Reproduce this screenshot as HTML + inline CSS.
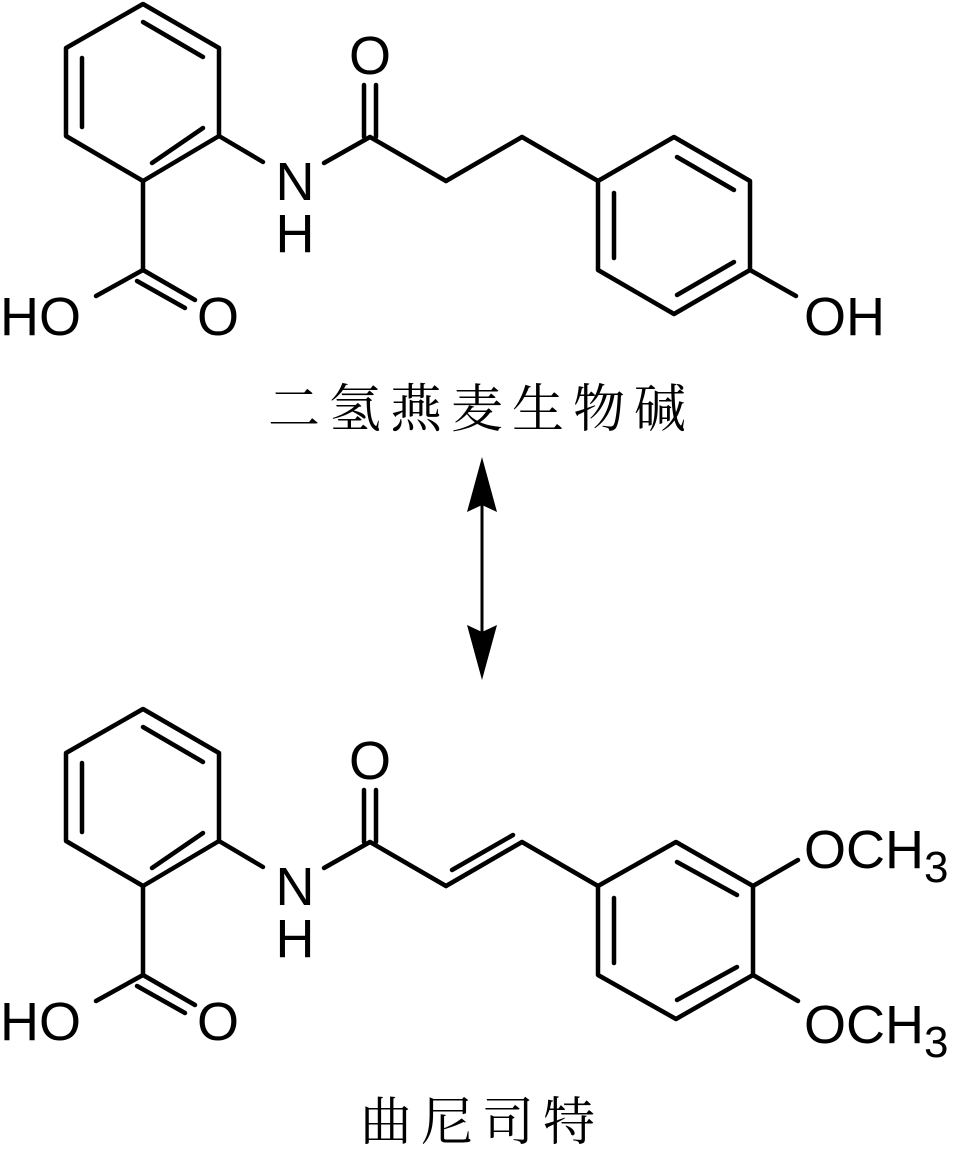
<!DOCTYPE html>
<html><head><meta charset="utf-8"><style>
html,body{margin:0;padding:0;background:#fff;}
svg{display:block}
</style></head><body>
<svg width="966" height="1152" viewBox="0 0 966 1152" xmlns="http://www.w3.org/2000/svg">
<g font-family="Liberation Sans, sans-serif" font-size="54" fill="#000">
<!-- top molecule -->
<g stroke="#000" stroke-width="4.5" fill="none" stroke-linecap="round" stroke-linejoin="round">
  <polygon points="143,4 219,48 219,136 143,181 66,136 66,48"/>
  <line x1="143" y1="22" x2="203" y2="57"/>
  <line x1="82" y1="58" x2="82" y2="127"/>
  <line x1="152" y1="163" x2="203" y2="128"/>
  <line x1="219" y1="136" x2="263" y2="162"/>
  <line x1="324" y1="163" x2="370" y2="137"/>
  <line x1="364" y1="137" x2="364" y2="85"/>
  <line x1="376" y1="137" x2="376" y2="85"/>
  <line x1="370" y1="137" x2="446" y2="181"/>
  <line x1="446" y1="181" x2="522" y2="137"/>
  <line x1="522" y1="137" x2="598" y2="181"/>
  <line x1="143" y1="181" x2="143" y2="270"/>
  <line x1="143" y1="270" x2="96" y2="296"/>
  <line x1="143" y1="270" x2="195" y2="300"/>
  <line x1="137" y1="281" x2="185" y2="308"/>
  <polygon points="598,181 674,137 750,181 750,270 674,314 598,270"/>
  <line x1="614" y1="193" x2="614" y2="258"/>
  <line x1="677" y1="157" x2="734" y2="190"/>
  <line x1="677" y1="295" x2="734" y2="262"/>
  <line x1="750" y1="270" x2="796" y2="296"/>
</g>
<text x="370" y="74" text-anchor="middle">O</text>
<text x="295" y="200" text-anchor="middle">N</text>
<text x="295" y="252" text-anchor="middle">H</text>
<text x="0" y="335">HO</text>
<text x="218" y="335" text-anchor="middle">O</text>
<text x="804" y="335">OH</text>
<text x="268" y="427" font-family="Liberation Serif, Noto Serif CJK SC, serif" font-size="52" letter-spacing="9">二氢燕麦生物碱</text>

<!-- arrow -->
<line x1="482" y1="500" x2="482" y2="635" stroke="#000" stroke-width="3"/>
<polygon points="482,457 497,512 482,505 467,512" fill="#000"/>
<polygon points="482,680 497,625 482,632 467,625" fill="#000"/>

<!-- bottom molecule -->
<g transform="translate(0,705)">
<g stroke="#000" stroke-width="4.5" fill="none" stroke-linecap="round" stroke-linejoin="round">
  <polygon points="143,4 219,48 219,136 143,181 66,136 66,48"/>
  <line x1="143" y1="22" x2="203" y2="57"/>
  <line x1="82" y1="58" x2="82" y2="127"/>
  <line x1="152" y1="163" x2="203" y2="128"/>
  <line x1="219" y1="136" x2="263" y2="162"/>
  <line x1="324" y1="163" x2="370" y2="137"/>
  <line x1="364" y1="137" x2="364" y2="85"/>
  <line x1="376" y1="137" x2="376" y2="85"/>
  <line x1="370" y1="137" x2="446" y2="181"/>
  <line x1="446" y1="181" x2="522" y2="137"/>
  <line x1="452" y1="165" x2="513" y2="130"/>
  <line x1="522" y1="137" x2="598" y2="181"/>
  <line x1="143" y1="181" x2="143" y2="270"/>
  <line x1="143" y1="270" x2="96" y2="296"/>
  <line x1="143" y1="270" x2="195" y2="300"/>
  <line x1="137" y1="281" x2="185" y2="308"/>
  <polygon points="598,181 676,137 753,181 753,270 676,314 598,270"/>
  <line x1="614" y1="193" x2="614" y2="258"/>
  <line x1="677" y1="157" x2="737" y2="190"/>
  <line x1="677" y1="295" x2="737" y2="262"/>
  <line x1="753" y1="181" x2="798" y2="155"/>
  <line x1="753" y1="270" x2="798" y2="296"/>
</g>
<text x="370" y="74" text-anchor="middle">O</text>
<text x="295" y="200" text-anchor="middle">N</text>
<text x="295" y="252" text-anchor="middle">H</text>
<text x="0" y="335">HO</text>
<text x="218" y="335" text-anchor="middle">O</text>
<text x="804" y="163">OCH<tspan font-size="44" dy="14">3</tspan></text>
<text x="804" y="338">OCH<tspan font-size="44" dy="14">3</tspan></text>
</g>
<text x="360" y="1140" font-family="Liberation Serif, Noto Serif CJK SC, serif" font-size="52" letter-spacing="9">曲尼司特</text>
</g>
</svg>
</body></html>
